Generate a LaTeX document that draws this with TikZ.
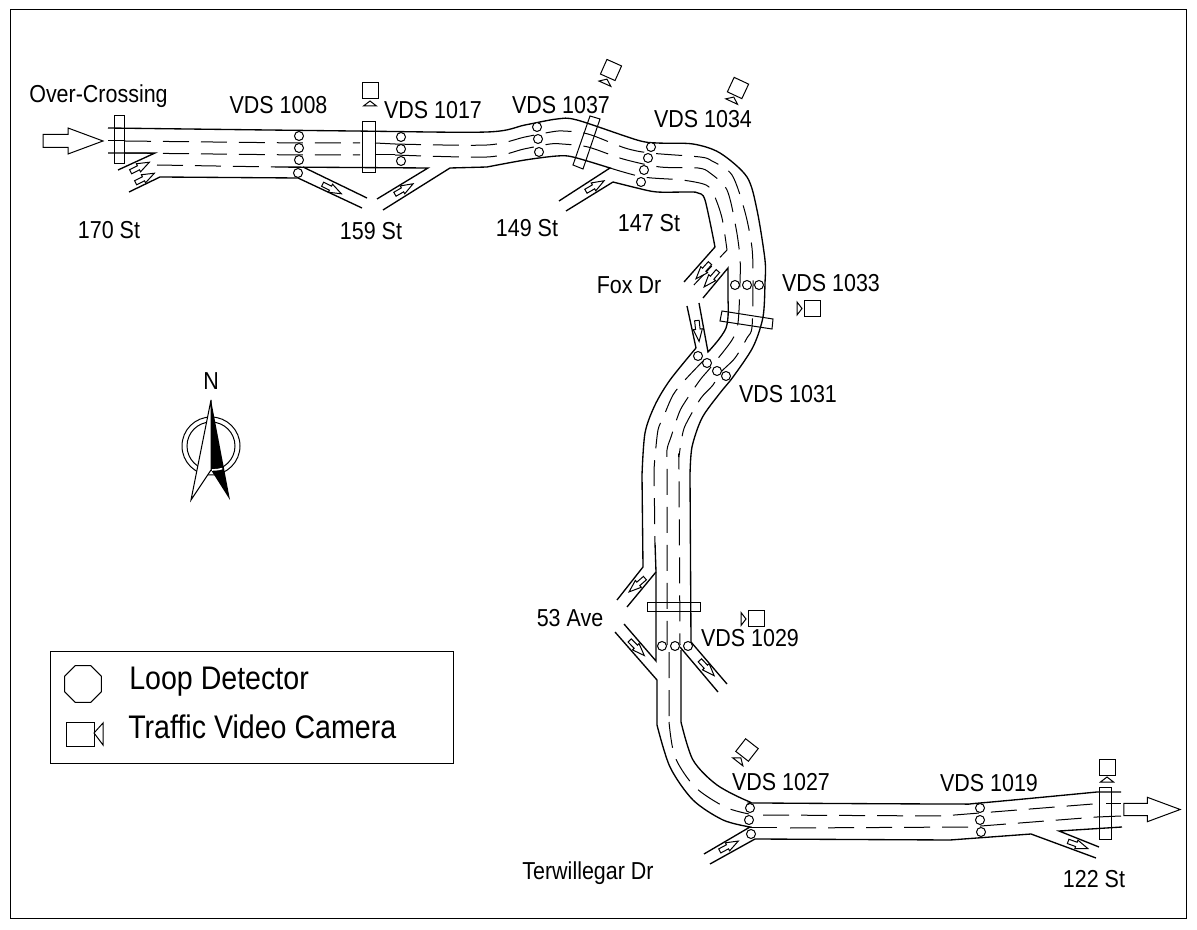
\documentclass[tikz,border=0pt]{standalone}
\usepackage{fontspec}
\setmainfont[FakeStretch=0.875]{Liberation Sans}
\usetikzlibrary{positioning,shapes.geometric}
\tikzset{
  road/.style={line width=1pt},
  lane/.style={line width=.75pt,dash pattern=on 19.5pt off 9pt},
  tick/.style={line width=.75pt},
  gantry/.style={line width=.75pt},
  detector/.style={line width=.75pt,fill=white},
  label/.style={font=\fontsize{18.4}{20}\selectfont,inner sep=0pt},
  legendlabel/.style={font=\fontsize{24.5}{26}\selectfont,inner sep=0pt,anchor=west},
  pics/flowarrow/.style={code={
    \draw[line width=.75pt,fill=white] (-30,-6.5) -- (-5,-6.5) -- (-5,-13) -- (30,0) -- (-5,13) -- (-5,6.5) -- (-30,6.5) -- cycle;
  }},
  pics/camera/.style={code={
    \draw[line width=.75pt,fill=white] (-8,-8) rectangle (8,8);
    \draw[line width=.75pt,fill=white] (0,10) -- (-6.5,15) -- (6.5,15) -- cycle;
  }}
}

\begin{document}
\begin{tikzpicture}[x=.75pt,y=-.75pt]
  \useasboundingbox (0,0) rectangle (1197,930);
  \draw[line width=.75pt] (10,10) rectangle (1186,918);

  % top stretch, edges
  \draw[road] plot[smooth,tension=.5] coordinates {(108,128) (353,131) (487,132) (525,125) (557,119) (577,120) (637,140) (657,143) (693,144) (720,153) (747,177) (757,210) (765,260) (765,283) (763,317) (753,347) (733,377) (720,393) (702,418) (692,447) (690,475)} -- (691,642) -- (727,684);
  \draw[road] (108,153) -- (155,153) -- (118,170);
  \draw[road] (129,192) -- (160,177) -- (298,178) -- (362,208);
  \draw[road] (303,167) -- (367,198);
  \draw[road] (275,167) -- (428,168) -- (377,199);
  \draw[road] (383,210) -- (450,168) -- (487,167) plot[smooth,tension=.5] coordinates {(487,167) (525,160) (557,156) (573,157) (610,168)} -- (559,201);
  \draw[road] (566,211) -- (613,182) plot[smooth,tension=.5] coordinates {(613,182) (637,188) (657,192) (690,192) (698,193) (705,200) (715,247)} -- (684,282);
  \draw[road] (703,298) -- (728,268) -- (728,300) plot[smooth,tension=.6] coordinates {(728,300) (726,328) (708,352)} -- (699,303);
  \draw[road] (687,306) -- (696,348) plot[smooth,tension=.5] coordinates {(696,348) (670,380) (655,405) (645,433) (642,475)} -- (643,567) -- (617,600);
  \draw[road] (655,543) -- (656,572) -- (656,661) -- (624,624);
  \draw[road] (627,607) -- (656,572);
  \draw[road] (615,632) -- (657,680) -- (657,725) plot[smooth,tension=.5] coordinates {(657,725) (670,767) (693,800) (723,820) (750,827)} -- (704,854);
  \draw[road] (710,864) -- (755,839) -- (950,840) -- (1031,834) -- (1096,858);
  \draw[road] (680,647) -- (718,692);
  \draw[road] (681,650) -- (681,722) plot[smooth,tension=.5] coordinates {(681,722) (693,760) (717,785) (750,802) (763,803) (950,804) (980,803) (1097,792)} -- (1121,792);
  \draw[road] (1099,847) -- (1059,831) -- (1122,827);

  % lanes
  \draw[lane] (125,141) -- (300,143) -- (360,143);
  \draw[lane] (125,153) -- (300,155) -- (360,155);
  \draw[lane] (157,165) -- (275,167);
  \draw[lane] plot[smooth,tension=.5] coordinates {(395,144) (487,145) (525,137) (551,132) (563,131) (588,134) (625,148) (650,153) (700,157) (712,161) (732,175) (745,212) (752,248) (753,282) (752,327) (747,338) (735,358) (720,373) (713,385) (701,398) (688,420) (683,432) (679,457) (679,470) (680,645)};
  \draw[lane] plot[smooth,tension=.5] coordinates {(395,155) (487,157) (524,149) (550,144) (562,144) (588,147) (623,159) (660,167) (698,168) (710,173) (727,190) (736,228) (740,258) (740,283) (738,323) (732,340) (711,367) (700,380) (685,402) (679,413) (671,437) (667,450) (667,473) (667,645)};
  \draw[lane] plot[smooth,tension=.5] coordinates {(610,168) (643,177) (682,180) (706,185) (714,195) (722,218) (727,250)} -- (691,288);
  \draw[lane] plot[smooth,tension=.5] coordinates {(703,361) (685,380) (673,395) (663,418) (658,430) (655,457) (654,470)} -- (655,543);
  \draw[lane] (669,652) -- (669,722) plot[smooth,tension=.5] coordinates {(669,722) (675,757) (695,787) (725,807) (749,814)};
  \draw[lane] (763,815) -- (942,816) -- (1093,804);
  \draw[lane] (790,828) -- (968,827) -- (1097,817);

  % solid ticks at gantries and detectors
  \draw[tick] (108,141) -- (125,141);
  \draw[tick] (375,143) -- (395,144);
  \draw[tick] (375,155) -- (395,155);
  \draw[tick] (750,827) -- (777,827);
  \draw[tick] (1097,817) -- (1121,816);
  \draw[tick] (1106,803) -- (1121,803);

  % gantries
  \draw[gantry] (114,116) rectangle (124,164);
  \draw[gantry] (362,122) rectangle (375,173);
  \draw[gantry] (590,116) -- (600,119) -- (583,169) -- (573,165) -- cycle;
  \draw[gantry] (722,311) -- (773,319) -- (772,329) -- (720,321) -- cycle;
  \draw[gantry] (647,603) rectangle (700,612);
  \draw[gantry] (1099,787) rectangle (1111,839);

  % loop detectors
  \foreach \x/\y in {299/136,299/148,299/160,298/173,
                     401/137,401/149,401/161,
                     537/127,538/139,539/152,
                     651/147,648/158,644/170,641/182,
                     735/285,747/285,759/285,
                     698/356,707/363,717/371,726/376,
                     662/646,675/646,688/646,
                     750/808,749/820,751/834,
                     980/808,980/820,981/832}
    \draw[detector] (\x,\y) circle (4.5);

  % ramp arrows
  \foreach \x/\y/\a in {140/167/27,145/178/27,332/189/-27,404/189/30,595/186/30,
                        703/271/228,711/279/229,698/331/-84,
                        637/585/221,637/648/-46,707/668/-47,
                        729/846/28,1078/845/-20}
    \pic[rotate=\a,scale=.35] at (\x,\y) {flowarrow};
  \pic[scale=1] at (73,141) {flowarrow};
  \pic[scale=.94] at (1152,809.5) {flowarrow};

  % cameras
  \foreach \x/\y/\a in {370/91/0,611/70/-24,738/88/-25,812/308.5/-90,756/619/-90,747/750/-38,1107/767/0}
    \pic[rotate=\a] at (\x,\y) {camera};

  % north arrow
  \draw[line width=.75pt] (211,446) circle (29);
  \draw[line width=.75pt] (211,446) circle (24);
  \draw[line width=.75pt,fill=white] (211,400) -- (191,500) -- (211,470) -- cycle;
  \fill (211,400) -- (230,500) -- (211,470) -- cycle;
  \draw[white,line width=1.2pt] (212,470) arc (90:50:16 and 6);

  % labels
  \node[label] (overcrossing) at (98.5,96) {Over-Crossing};
  \node[label] (vds1008) at (278.5,105) {VDS 1008};
  \node[label] (vds1017) at (433,110) {VDS 1017};
  \node[label] (st170) at (109,230) {170 St};
  \node[label] (st159) at (371,231) {159 St};
  \node[label] (vds1037) at (561,105) {VDS 1037};
  \node[label] (vds1034) at (703,119) {VDS 1034};
  \node[label] (st149) at (527,228) {149 St};
  \node[label] (st147) at (649,223) {147 St};
  \node[label] (foxdr) at (629,285) {Fox Dr};
  \node[label] (vds1033) at (831,283) {VDS 1033};
  \node[label] (vds1031) at (788,394) {VDS 1031};
  \node[label] (ave53) at (570,618) {53 Ave};
  \node[label] (vds1029) at (750,638) {VDS 1029};
  \node[label] (vds1027) at (781,782) {VDS 1027};
  \node[label] (vds1019) at (989,783) {VDS 1019};
  \node[label] (st122) at (1094,879) {122 St};
  \node[label] (terwillegar) at (588,873) {Terwillegar Dr};
  \node[label] (north) at (211,381) {N};

  % legend
  \draw[line width=.75pt] (50,651) rectangle (453,763);
  \node[regular polygon,regular polygon sides=8,draw,line width=.75pt,minimum size=30pt,inner sep=0pt] (octagon) at (83,684) {};
  \draw[line width=.75pt] (66,722) rectangle (94,746);
  \draw[line width=.75pt] (94,733) -- (103,723) -- (103,745) -- cycle;
  \node[legendlabel] (loopdetector) at (129,682) {Loop Detector};
  \node[legendlabel] (trafficcamera) at (128,727) {Traffic Video Camera};
\end{tikzpicture}
\end{document}
